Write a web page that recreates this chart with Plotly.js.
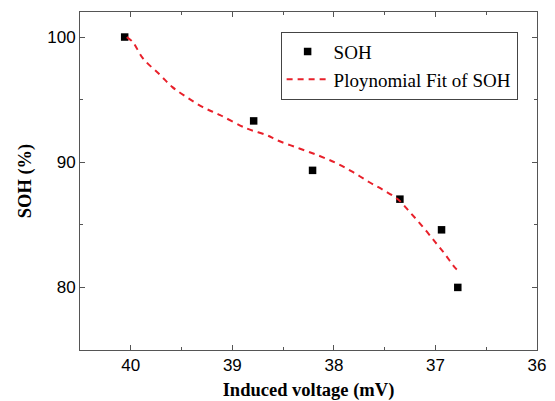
<!DOCTYPE html>
<html>
<head>
<meta charset="utf-8">
<script src="https://cdn.plot.ly/plotly-3.0.1.min.js"></script>
<style>html,body{margin:0;padding:0;background:#fff;}#chart{width:555px;height:401px;}</style>
</head>
<body>
<div id="chart"></div>
<script>
// Measured data
var voltage = [40.06, 38.79, 38.21, 37.35, 36.94, 36.78];
var soh = [100.0, 93.3, 89.35, 87.05, 84.6, 80.0];

// Polynomial fit curve
var fitVoltage = [40.04, 39.98, 39.88, 39.71, 39.59, 39.45, 39.29, 39.12, 38.86, 38.66, 38.56, 38.34, 38.14, 37.97, 37.81, 37.65, 37.51, 37.37, 37.25, 37.12, 37.0, 36.91, 36.81, 36.77];
var fitSoh = [100.0, 99.6, 98.3, 96.96, 96.0, 95.2, 94.4, 93.76, 92.7, 92.16, 91.76, 91.1, 90.5, 89.9, 89.2, 88.4, 87.76, 87.04, 86.0, 84.8, 83.6, 82.7, 81.6, 81.3];

var xTicks = [40, 39, 38, 37, 36];
var yTicks = [80, 90, 100];

var traces = [
  {
    x: voltage, y: soh, type: 'scatter', mode: 'markers', name: 'SOH',
    marker: {symbol: 'square', size: 7.5, color: '#000'}
  },
  {
    x: fitVoltage, y: fitSoh, type: 'scatter', mode: 'lines', name: 'Ploynomial Fit of SOH',
    line: {color: '#e8202a', width: 2, dash: '6px,5px', shape: 'spline'}
  }
];

var axisCommon = {
  showgrid: false, zeroline: false, showline: true, linecolor: '#555', linewidth: 1,
  mirror: 'ticks', ticks: 'inside', ticklen: 5, tickwidth: 1, tickcolor: '#555',
  tickfont: {family: 'Liberation Sans, Arial, sans-serif', size: 17, color: '#000'}
};

var layout = {
  width: 555, height: 401,
  margin: {l: 80, r: 18, t: 12, b: 51},
  paper_bgcolor: '#fff', plot_bgcolor: '#fff',
  showlegend: true,
  legend: {
    x: 0.439, y: 0.942, xanchor: 'left', yanchor: 'top',
    bordercolor: '#444', borderwidth: 1, bgcolor: '#fff',
    itemwidth: 42,
    font: {family: 'Liberation Serif, Times New Roman, serif', size: 19, color: '#000'},
    tracegroupgap: 0
  },
  xaxis: Object.assign({}, axisCommon, {
    range: [40.5, 36], tickvals: xTicks, ticktext: xTicks.map(String),
    minor: {dtick: 0.5, ticks: 'inside', ticklen: 3, tickcolor: '#555'},
    title: {text: 'Induced voltage (mV)', standoff: 8,
      font: {family: 'Liberation Serif, Times New Roman, serif', size: 18.5, color: '#000', weight: 'bold'}}
  }),
  yaxis: Object.assign({}, axisCommon, {
    range: [75, 102], tickvals: yTicks, ticktext: yTicks.map(String),
    minor: {dtick: 5, ticks: 'inside', ticklen: 3, tickcolor: '#555'},
    title: {text: 'SOH (%)', standoff: 10,
      font: {family: 'Liberation Serif, Times New Roman, serif', size: 18.5, color: '#000', weight: 'bold'}}
  })
};

Plotly.newPlot('chart', traces, layout, {staticPlot: true});
</script>
</body>
</html>
